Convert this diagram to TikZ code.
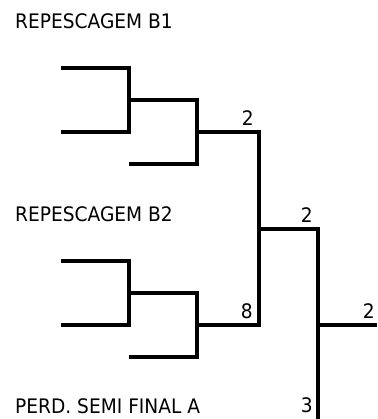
\documentclass[tikz,border=0pt]{standalone}
\usepackage{fontspec}
\setmainfont{DejaVu Sans}[FakeStretch=0.93]
\usetikzlibrary{positioning}
\tikzstyle{bracket} = [line width=3.3pt, line join=miter]
\tikzstyle{title} = [font=\fontsize{20}{22}\selectfont, anchor=base west, inner sep=0pt]
\tikzstyle{score} = [font=\fontsize{20}{22}\selectfont, anchor=south east, inner sep=0pt, xshift=-5pt, yshift=6pt]

\begin{document}
\begin{tikzpicture}[x=1pt, y=-1pt]
	\useasboundingbox (0,0) rectangle (377,419);
	% group B1
	\coordinate (b1top) at (61,68);
	\coordinate (b1bot) at (61,132);
	\coordinate (b1join) at (129,100);
	\coordinate (b1third) at (129,164);
	\coordinate (b1out) at (197,132);
	% group B2
	\coordinate (b2top) at (61,261);
	\coordinate (b2bot) at (61,325);
	\coordinate (b2join) at (129,293);
	\coordinate (b2third) at (129,357);
	\coordinate (b2out) at (197,325);
	% repescagem final
	\coordinate (repA) at (259,132);
	\coordinate (repB) at (259,325);
	\coordinate (repjoin) at (259,229);
	\coordinate (finaltop) at (318,229);
	\coordinate (finalbot) at (318,419);
	\coordinate (finaljoin) at (318,325);
	\coordinate (winner) at (377,325);
	% Titles
	\node[title, name=titleB1] at (15,29) {REPESCAGEM B1};
	\node[title, name=titleB2] at (15,221) {REPESCAGEM B2};
	\node[title, name=titleSF] at (15,413) {PERD. SEMI FINAL A};
	% Brackets
	\draw [bracket] (b1top) -| (b1join |- b1bot) -- (b1bot);
	\draw [bracket] (b1join) -| (b1out |- b1third) -- (b1third);
	\draw [bracket] (b2top) -| (b2join |- b2bot) -- (b2bot);
	\draw [bracket] (b2join) -| (b2out |- b2third) -- (b2third);
	\draw [bracket] (b1out) -- (repA) -- (repB) -- (b2out);
	\draw [bracket] (repjoin) -- (finaltop) -- (finalbot);
	\draw [bracket] (finaljoin) -- (winner);
	% Scores
	\node[score, name=scoreB1] at (repA) {2};
	\node[score, name=scoreB2, xshift=-1pt] at (repB) {8};
	\node[score, name=scoreRep] at (finaltop) {2};
	\node[score, name=scoreWin, xshift=3pt] at (winner) {2};
	\node[score, name=scoreSF] at (finalbot) {3};
\end{tikzpicture}
\end{document}
